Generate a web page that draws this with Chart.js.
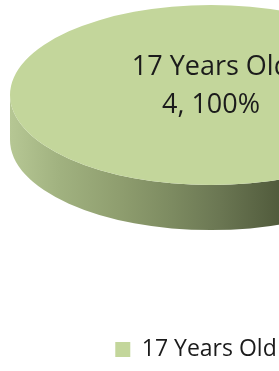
<!DOCTYPE html>
<html>
<head>
<meta charset="utf-8">
<script src="https://cdn.jsdelivr.net/npm/chart.js@4.4.1/dist/chart.umd.min.js"></script>
<style>
  html, body { margin: 0; padding: 0; background: #fff; overflow: hidden; }
  #wrap { position: relative; width: 422px; height: 371px; }
</style>
</head>
<body>
<div id="wrap"><canvas id="ageChart"></canvas></div>
<script>
const categories = ["17 Years Old"];
const counts = [4];
const sliceColors = ["#c3d69b"];

// fake 3D pie: flat ellipse on top, shaded wall in front
const pie3d = {
    id: "pie3d",

    afterLayout(chart, args, opts) {
        // legend sits a little left of the plot centre in the original
        const lg = chart.legend;
        lg.left += opts.legendShift;
        lg.right += opts.legendShift;
    },

    beforeDatasetsDraw(chart, args, opts) {
        const ctx = chart.ctx;
        const area = chart.chartArea;
        const meta = chart.getDatasetMeta(0);
        const values = chart.data.datasets[0].data;
        const colors = chart.data.datasets[0].backgroundColor;
        const total = values.reduce((a, b) => a + b, 0);

        const rx = area.width / 2;
        const ry = rx * opts.tilt;
        const depth = rx * opts.depth;
        const cx = meta.data[0].x;
        const cy = area.top + ry;

        const grad = ctx.createLinearGradient(cx - rx, 0, cx + rx, 0);
        opts.sideStops.forEach(s => grad.addColorStop(s[0], s[1]));

        ctx.save();

        // side wall, only the front half (0..PI) is visible
        meta.data.forEach(arc => {
            for (let k = -1; k <= 1; k++) {
                const a = Math.max(arc.startAngle, k * 2 * Math.PI);
                const b = Math.min(arc.endAngle, k * 2 * Math.PI + Math.PI);
                if (b <= a) continue;
                ctx.beginPath();
                ctx.ellipse(cx, cy, rx, ry, 0, a, b);
                ctx.ellipse(cx, cy + depth, rx, ry, 0, b, a, true);
                ctx.closePath();
                ctx.fillStyle = grad;
                ctx.fill();
            }
        });

        // top face
        meta.data.forEach((arc, i) => {
            ctx.beginPath();
            ctx.moveTo(cx, cy);
            ctx.ellipse(cx, cy, rx, ry, 0, arc.startAngle, arc.endAngle);
            ctx.closePath();
            ctx.fillStyle = colors[i];
            ctx.fill();
        });

        // data labels: "name" / "value, pct%"
        ctx.fillStyle = opts.labelColor;
        ctx.font = opts.labelFont;
        ctx.textAlign = "center";
        ctx.textBaseline = "middle";
        meta.data.forEach((arc, i) => {
            let lx = cx, ly = cy;
            if (arc.endAngle - arc.startAngle < 2 * Math.PI - 1e-6) {
                const mid = (arc.startAngle + arc.endAngle) / 2;
                lx = cx + rx * 0.6 * Math.cos(mid);
                ly = cy + ry * 0.6 * Math.sin(mid);
            }
            ly += opts.labelLift;
            const pct = Math.round(values[i] / total * 100);
            const lines = [chart.data.labels[i], values[i] + ", " + pct + "%"];
            lines.forEach((t, j) => {
                ctx.fillText(t, lx, ly + (j - (lines.length - 1) / 2) * opts.lineHeight);
            });
        });

        ctx.restore();
        return false;
    }
};

new Chart(document.getElementById("ageChart"), {
    type: "pie",
    data: {
        labels: categories,
        datasets: [{
            data: counts,
            backgroundColor: sliceColors,
            borderWidth: 0
        }]
    },
    options: {
        responsive: true,
        maintainAspectRatio: false,
        animation: false,
        layout: {
            padding: { top: 5, left: 10, right: 10, bottom: 0 }
        },
        plugins: {
            tooltip: { enabled: false },
            legend: {
                position: "bottom",
                labels: {
                    boxWidth: 15,
                    boxHeight: 15,
                    padding: 3,
                    color: "#1b1b1b",
                    font: { family: "'Open Sans'", size: 23 }
                }
            },
            pie3d: {
                tilt: 0.448,
                depth: 0.224,
                legendShift: -15,
                labelLift: -8.5,
                lineHeight: 38,
                labelColor: "#1b1b1b",
                labelFont: "27px 'Open Sans'",
                sideStops: [
                    [0, "#b6c794"],
                    [0.12, "#a1b280"],
                    [0.27, "#8f9e6f"],
                    [0.4, "#7d8b61"],
                    [0.52, "#6b7753"],
                    [0.67, "#515b3c"],
                    [1, "#3f4730"]
                ]
            }
        }
    },
    plugins: [pie3d]
});
</script>
</body>
</html>
